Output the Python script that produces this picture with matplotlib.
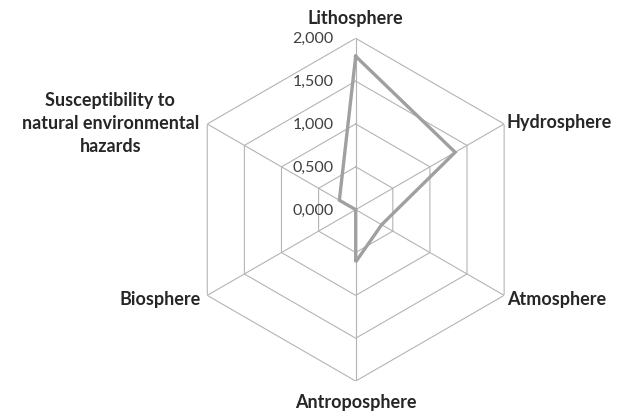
import numpy as np
import matplotlib.pyplot as plt

# data
categories = ["Lithosphere", "Hydrosphere", "Atmosphere", "Antroposphere",
              "Biosphere", "Susceptibility to\nnatural environmental\nhazards"]
values = [1.79, 1.34, 0.35, 0.61, 0.0, 0.22]
rings = [0.5, 1.0, 1.5, 2.0]
tick_values = [0.0, 0.5, 1.0, 1.5, 2.0]
tick_labels = ["0,000", "0,500", "1,000", "1,500", "2,000"]

plt.rcParams['font.family'] = ['Lato', 'DejaVu Sans']

fig = plt.figure(figsize=(6.17, 4.14), dpi=100)
ax = fig.add_axes([0.2987, 0.0771, 0.5556, 0.828], projection='polar')
ax.set_theta_zero_location('N')
ax.set_theta_direction(-1)
ax.set_ylim(0, 2)
ax.grid(False)
ax.spines['polar'].set_visible(False)
ax.set_xticks([])
ax.set_yticks([])
ax.patch.set_alpha(0)

n = len(categories)
theta = np.linspace(0, 2 * np.pi, n, endpoint=False)
theta_closed = np.append(theta, theta[0])

grid_color = '#b4b4b4'
for r in rings:
    ax.plot(theta_closed, [r] * (n + 1), color=grid_color, lw=0.8, zorder=1)
for t in theta:
    ax.plot([t, t], [0, 2], color=grid_color, lw=0.8, zorder=1)

vals_closed = values + values[:1]
ax.plot(theta_closed, vals_closed, color='#a0a0a0', lw=2.4, zorder=3,
        solid_joinstyle='miter')

for v, lab in zip(tick_values, tick_labels):
    ax.annotate(lab, xy=(0, v), xytext=(-16, 0), textcoords='offset points',
                ha='right', va='center', fontsize=11.5, color='#404040')

label_style = [
    ((0, 15), 'center', 'center'),
    ((2, 2), 'left', 'center'),
    ((2, -2.5), 'left', 'center'),
    ((0, -15), 'center', 'center'),
    ((-5, -2.5), 'right', 'center'),
    ((-6, 1), 'right', 'center'),
]
for t, cat, (off, ha, va) in zip(theta, categories, label_style):
    ax.annotate(cat, xy=(t, 2), xytext=off, textcoords='offset points',
                ha=ha, va=va, fontsize=13, fontweight='bold', color='#262626',
                multialignment='center', linespacing=1.45,
                annotation_clip=False)

fig.savefig('out.png', dpi=100)
